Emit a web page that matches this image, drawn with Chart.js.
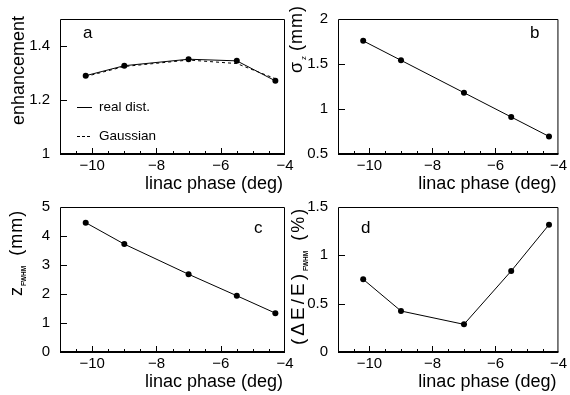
<!DOCTYPE html>
<html>
<head>
<meta charset="utf-8">
<script src="https://cdn.jsdelivr.net/npm/chart.js@4"></script>
<style>
  body { margin: 0; background: #fff; }
  #wrap { position: relative; width: 570px; height: 395px; }
  canvas { position: absolute; left: 0; top: 0; }
</style>
</head>
<body>
<div id="wrap">
  <canvas id="ca" width="570" height="395"></canvas>
  <canvas id="cb" width="570" height="395"></canvas>
  <canvas id="cc" width="570" height="395"></canvas>
  <canvas id="cd" width="570" height="395"></canvas>
</div>
<script>
// linac phase (deg) of the five working points
const phase = [-10.2, -9, -7, -5.5, -4.3];
// a: enhancement
const enhReal = [1.290, 1.327, 1.351, 1.345, 1.271];
const enhGauss = [1.287, 1.324, 1.348, 1.335, 1.279];
// b: sigma_z (mm)
const sigmaZ = [1.757, 1.541, 1.181, 0.911, 0.695];
// c: z_FWHM (mm)
const zFwhm = [4.46, 3.72, 2.68, 1.94, 1.34];
// d: (dE/E)_FWHM (%)
const dEFwhm = [0.752, 0.424, 0.286, 0.838, 1.317];

const xTicks = [-10, -8, -6, -4];
const yTicksA = [1, 1.2, 1.4];
const yTicksB = [0.5, 1, 1.5, 2];
const yTicksC = [0, 1, 2, 3, 4, 5];
const yTicksD = [0, 0.5, 1, 1.5];

const W = 570, H = 395;
const FONT = '"Liberation Sans", Arial, sans-serif';
const fmt = v => String(v).replace('-', '\u2212');
const pts = vals => phase.map((x, i) => ({x, y: vals[i]}));

const panelPlugin = {
  id: 'panel',
  afterDraw(chart, args, o) {
    const {ctx, chartArea: a, scales: {x, y}} = chart;
    ctx.save();
    ctx.strokeStyle = '#000';
    ctx.fillStyle = '#000';
    // frame
    ctx.lineWidth = 1;
    ctx.beginPath();
    ctx.moveTo(a.left + 0.5, a.bottom);
    ctx.lineTo(a.left + 0.5, a.top + 0.5);
    ctx.lineTo(a.right - 0.5, a.top + 0.5);
    ctx.lineTo(a.right - 0.5, a.bottom);
    ctx.stroke();
    ctx.lineWidth = 2;
    ctx.beginPath();
    ctx.moveTo(a.left, a.bottom);
    ctx.lineTo(a.right, a.bottom);
    ctx.stroke();
    // inward ticks
    ctx.lineWidth = 1;
    ctx.beginPath();
    for (let k = -21; k <= -9; k++) {
      const v = k / 2;
      const px = Math.round(x.getPixelForValue(v)) + 0.5;
      const len = (k % 4 === 0) ? 6 : 3;
      ctx.moveTo(px, a.bottom);
      ctx.lineTo(px, a.bottom - len);
    }
    o.yTicks.forEach(v => {
      if (v <= y.min || v >= y.max) return;
      const py = Math.round(y.getPixelForValue(v)) + 0.5;
      ctx.moveTo(a.left, py);
      ctx.lineTo(a.left + 7, py);
    });
    ctx.stroke();
    // x title
    ctx.font = '18px ' + FONT;
    ctx.textAlign = 'right';
    ctx.textBaseline = 'alphabetic';
    ctx.fillText('linac phase (deg)', a.right - 2, a.bottom + 35);
    // y title, rotated, drawn part by part
    ctx.save();
    ctx.translate(o.yTitle.x, o.yTitle.y);
    ctx.rotate(-Math.PI / 2);
    ctx.textAlign = 'left';
    let u = 0;
    o.yTitle.parts.forEach(p => {
      ctx.font = (p.bold ? 'bold ' : '') + p.size + 'px ' + FONT;
      ctx.letterSpacing = (p.ls || 0) + 'px';
      ctx.fillText(p.t, u, p.dy || 0);
      u += ctx.measureText(p.t).width + (p.gap || 0);
    });
    ctx.restore();
    // panel letter
    ctx.font = '17px ' + FONT;
    ctx.textAlign = 'left';
    ctx.fillText(o.letter, o.lx, o.ly);
    // legend (panel a only)
    if (o.legend) {
      ctx.font = '13.5px ' + FONT;
      ctx.textBaseline = 'middle';
      o.legend.forEach(l => {
        ctx.lineWidth = 1;
        ctx.setLineDash(l.dash);
        ctx.beginPath();
        ctx.moveTo(77, l.y + 0.5);
        ctx.lineTo(92, l.y + 0.5);
        ctx.stroke();
        ctx.setLineDash([]);
        ctx.fillText(l.t, 99, l.y);
      });
    }
    ctx.restore();
  }
};

function panelChart(id, box, datasets, yMin, yMax, yTicks, deco) {
  deco.yTicks = yTicks;
  return new Chart(document.getElementById(id), {
    type: 'line',
    data: {datasets},
    options: {
      responsive: false,
      animation: false,
      devicePixelRatio: 1,
      layout: {padding: {left: 0, right: W - box.r, top: box.t, bottom: 0}},
      plugins: {legend: {display: false}, tooltip: {enabled: false}, panel: deco},
      scales: {
        x: {
          type: 'linear', min: -11, max: -4,
          afterBuildTicks: s => { s.ticks = xTicks.map(v => ({value: v})); },
          afterFit: s => { s.height = H - box.b; },
          grid: {display: false, drawTicks: false},
          border: {display: false},
          ticks: {padding: 3, color: '#000', font: {family: FONT, size: 15},
                  maxRotation: 0, autoSkip: false, callback: fmt}
        },
        y: {
          type: 'linear', min: yMin, max: yMax,
          afterBuildTicks: s => { s.ticks = yTicks.map(v => ({value: v})); },
          afterFit: s => { s.width = box.l; },
          grid: {display: false, drawTicks: false},
          border: {display: false},
          ticks: {padding: 10, color: '#000', font: {family: FONT, size: 15},
                  autoSkip: false, callback: fmt}
        }
      }
    },
    plugins: [panelPlugin]
  });
}

const solid = vals => ({
  data: pts(vals), borderColor: '#000', borderWidth: 1, tension: 0,
  pointRadius: 3, pointBackgroundColor: '#000', pointBorderWidth: 0
});

panelChart('ca', {l: 60, r: 285, t: 8, b: 154},
  [solid(enhReal),
   {data: pts(enhGauss), borderColor: '#000', borderWidth: 1, borderDash: [3, 3],
    pointRadius: 0, tension: 0}],
  1, 1.5, yTicksA,
  {letter: 'a', lx: 83, ly: 38,
   yTitle: {x: 24, y: 125, parts: [{t: 'enhancement', size: 18}]},
   legend: [{t: 'real dist.', y: 107, dash: []}, {t: 'Gaussian', y: 136, dash: [3, 2]}]});

panelChart('cb', {l: 338, r: 563, t: 8, b: 154},
  [solid(sigmaZ)], 0.5, 2, yTicksB,
  {letter: 'b', lx: 530, ly: 38,
   yTitle: {x: 302, y: 73, parts: [
     {t: '\u03c3', size: 18, gap: 2},
     {t: 'z', size: 8, dy: 4, gap: 5},
     {t: '(mm)', size: 18, ls: 1}]}});

panelChart('cc', {l: 60, r: 285, t: 207, b: 352},
  [solid(zFwhm)], 0, 5, yTicksC,
  {letter: 'c', lx: 254, ly: 233,
   yTitle: {x: 22, y: 296, parts: [
     {t: 'z', size: 18, gap: 1},
     {t: 'FWHM', size: 6.5, bold: true, dy: 4, gap: 10},
     {t: '(mm)', size: 18, ls: 1}]}});

panelChart('cd', {l: 338, r: 563, t: 207, b: 352},
  [solid(dEFwhm)], 0, 1.5, yTicksD,
  {letter: 'd', lx: 361, ly: 233,
   yTitle: {x: 304, y: 345, parts: [
     {t: '(\u0394E/E)', size: 19, ls: 3, gap: 0},
     {t: 'FWHM', size: 6.5, bold: true, dy: 4, gap: 10},
     {t: '(%)', size: 18, ls: 2}]}});
</script>
</body>
</html>
